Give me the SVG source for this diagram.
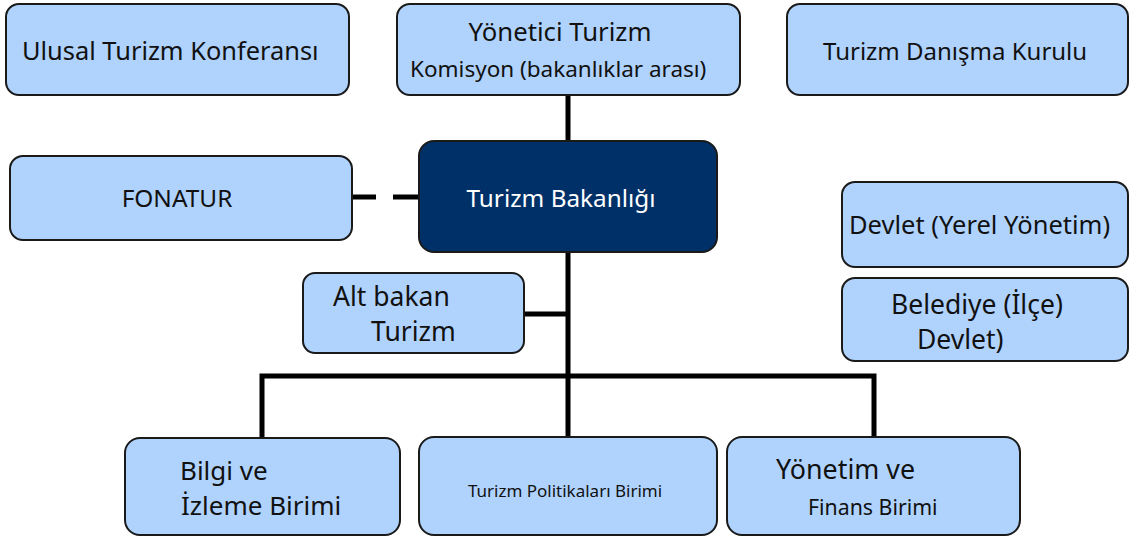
<svg xmlns="http://www.w3.org/2000/svg" width="1129" height="538" viewBox="0 0 1129 538">
<style>
.n{fill:#B0D3FE;stroke:#1a1a1a;stroke-width:2}
.d{fill:#003068;stroke:#1a1a1a;stroke-width:2}
text{font-family:"Noto Sans","Open Sans",sans-serif;fill:#111}
.w{fill:#fff}
.c{fill:none;stroke:#000;stroke-width:5}
</style>
<rect width="1129" height="538" fill="#fff"/>
<g id="connectors">
<line class="c" x1="568" y1="95" x2="568" y2="141"/>
<line class="c" x1="568" y1="252" x2="568" y2="437"/>
<line class="c" x1="524" y1="314" x2="568" y2="314"/>
<polyline class="c" points="262,438 262,376 874,376 874,438"/>
<line class="c" x1="352" y1="197" x2="376" y2="197"/>
<line class="c" x1="393" y1="197" x2="419" y2="197"/>
</g>
<g id="ulusal"><rect class="n" x="6" y="4" width="343" height="91" rx="13"/><text x="22" y="60" font-size="25.4">Ulusal Turizm Konferansı</text></g>
<g id="yonetici"><rect class="n" x="397" y="4" width="343" height="91" rx="13"/><text x="560" y="41" font-size="25.7" text-anchor="middle">Yönetici Turizm</text><text x="410" y="77" font-size="22.5">Komisyon (bakanlıklar arası)</text></g>
<g id="danisma"><rect class="n" x="787" y="4" width="341" height="91" rx="13"/><text x="823" y="60" font-size="24">Turizm Danışma Kurulu</text></g>
<g id="fonatur"><rect class="n" x="10" y="156" width="342" height="84" rx="13"/><text x="177" y="207" font-size="24.4" text-anchor="middle">FONATUR</text></g>
<g id="bakanlik"><rect class="d" x="419" y="141" width="298" height="111" rx="15"/><text class="w" x="561" y="207" font-size="24.3" text-anchor="middle">Turizm Bakanlığı</text></g>
<g id="altbakan"><rect class="n" x="303" y="273" width="221" height="80" rx="12"/><text x="333" y="306" font-size="26.5">Alt bakan</text><text x="371" y="341" font-size="26.5">Turizm</text></g>
<g id="devlet"><rect class="n" x="842" y="182" width="286" height="85" rx="13"/><text x="849" y="234" font-size="25.5">Devlet (Yerel Yönetim)</text></g>
<g id="belediye"><rect class="n" x="842" y="278" width="286" height="83" rx="13"/><text x="891" y="314" font-size="26.5">Belediye (İlçe)</text><text x="917" y="349" font-size="26.5">Devlet)</text></g>
<g id="bilgi"><rect class="n" x="125" y="438" width="275" height="97" rx="15"/><text x="180" y="480" font-size="26">Bilgi ve</text><text x="181" y="515" font-size="26">İzleme Birimi</text></g>
<g id="politika"><rect class="n" x="419" y="437" width="298" height="98" rx="15"/><text x="565" y="497" font-size="17" text-anchor="middle">Turizm Politikaları Birimi</text></g>
<g id="yonetim"><rect class="n" x="727" y="437" width="293" height="98" rx="15"/><text x="776" y="479" font-size="26.8">Yönetim ve</text><text x="808" y="515" font-size="21.3">Finans Birimi</text></g>
</svg>
